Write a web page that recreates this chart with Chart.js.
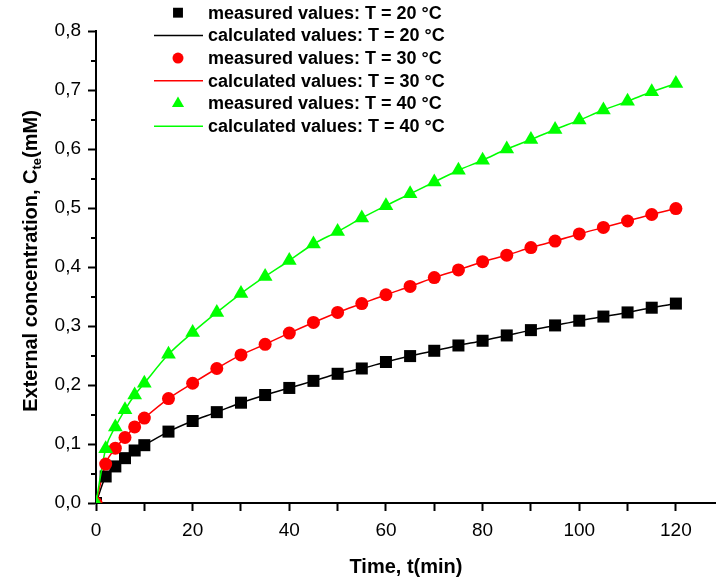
<!DOCTYPE html>
<html>
<head>
<meta charset="utf-8">
<script src="https://cdn.jsdelivr.net/npm/chart.js@4.4.0/dist/chart.umd.min.js"></script>
<style>
  html, body { margin: 0; padding: 0; background: #fff; }
</style>
</head>
<body>
<canvas id="myChart" width="716" height="585"></canvas>
<script>
const tiempos = [0, 2, 4, 6, 8, 10, 15, 20, 25, 30, 35, 40, 45, 50, 55, 60, 65, 70, 75, 80, 85, 90, 95, 100, 105, 110, 115, 120];

// valores medidos (mM)
const medidos20 = [0, 0.045, 0.062, 0.076, 0.089, 0.098, 0.121, 0.139, 0.154, 0.170, 0.183, 0.195, 0.207, 0.219, 0.228, 0.239, 0.249, 0.258, 0.267, 0.275, 0.284, 0.293, 0.301, 0.309, 0.316, 0.323, 0.331, 0.338];
const medidos30 = [0, 0.066, 0.093, 0.111, 0.129, 0.144, 0.177, 0.203, 0.228, 0.251, 0.269, 0.288, 0.306, 0.323, 0.338, 0.353, 0.367, 0.382, 0.395, 0.409, 0.420, 0.433, 0.444, 0.456, 0.467, 0.478, 0.489, 0.499];
const medidos40 = [0, 0.092, 0.129, 0.158, 0.183, 0.203, 0.252, 0.289, 0.323, 0.355, 0.384, 0.411, 0.439, 0.460, 0.483, 0.504, 0.524, 0.544, 0.564, 0.581, 0.600, 0.616, 0.633, 0.649, 0.666, 0.681, 0.697, 0.711];

// valores calculados (mM)
const calc20 = [0, 0.045, 0.062, 0.076, 0.089, 0.098, 0.121, 0.139, 0.154, 0.170, 0.183, 0.195, 0.207, 0.219, 0.228, 0.239, 0.249, 0.258, 0.267, 0.275, 0.284, 0.293, 0.301, 0.309, 0.316, 0.323, 0.331, 0.338];
const calc30 = [0, 0.066, 0.093, 0.111, 0.129, 0.144, 0.177, 0.203, 0.228, 0.251, 0.269, 0.288, 0.306, 0.323, 0.338, 0.353, 0.367, 0.382, 0.395, 0.409, 0.420, 0.433, 0.444, 0.456, 0.467, 0.478, 0.489, 0.499];
const calc40 = [0, 0.092, 0.129, 0.158, 0.183, 0.203, 0.252, 0.289, 0.323, 0.355, 0.384, 0.411, 0.439, 0.460, 0.483, 0.504, 0.524, 0.544, 0.564, 0.581, 0.600, 0.616, 0.633, 0.649, 0.666, 0.681, 0.697, 0.711];

const xEtiquetas = [0, 20, 40, 60, 80, 100, 120];
const yValores   = [0, 0.1, 0.2, 0.3, 0.4, 0.5, 0.6, 0.7, 0.8];
const yEtiquetas = ['0,0', '0,1', '0,2', '0,3', '0,4', '0,5', '0,6', '0,7', '0,8'];
const yMenores   = [0.05, 0.15, 0.25, 0.35, 0.45, 0.55, 0.65, 0.75];

const serie = vals => tiempos.map((t, i) => ({ x: t, y: vals[i] }));

Chart.defaults.font.family = '"Liberation Sans", Arial, sans-serif';
Chart.defaults.color = '#000';

const medida = (label, vals, color, estilo, radio, orden) => ({
  label, data: serie(vals), showLine: false,
  pointStyle: estilo, pointRadius: radio, pointBorderWidth: 0,
  backgroundColor: color, borderColor: color, order: orden
});
const calculada = (label, vals, color, orden) => ({
  label, data: serie(vals), showLine: true, borderColor: color, backgroundColor: color,
  borderWidth: 1.5, pointRadius: 0, cubicInterpolationMode: 'monotone', order: orden
});

const data = {
  datasets: [
    medida('measured values: T = 20 °C', medidos20, '#000000', 'rect', 8.5, 4),
    calculada('calculated values: T = 20 °C', calc20, '#000000', 6),
    medida('measured values: T = 30 °C', medidos30, '#ff0000', 'circle', 6.5, 2),
    calculada('calculated values: T = 30 °C', calc30, '#ff0000', 5),
    medida('measured values: T = 40 °C', medidos40, '#00ff00', 'triangle', 8.5, 1),
    calculada('calculated values: T = 40 °C', calc40, '#00ff00', 3)
  ]
};

// marcas menores del eje y
const marcasMenores = {
  id: 'marcasMenores',
  afterDraw(chart) {
    const y = chart.scales.y, ctx = chart.ctx;
    ctx.save();
    ctx.strokeStyle = '#000';
    ctx.lineWidth = 2;
    yMenores.forEach(v => {
      const py = Math.round(y.getPixelForValue(v));
      ctx.beginPath();
      ctx.moveTo(y.right - 5, py);
      ctx.lineTo(y.right, py);
      ctx.stroke();
    });
    ctx.restore();
  }
};

// titulo del eje y con subindice
const tituloY = {
  id: 'tituloY',
  afterDraw(chart) {
    const { ctx, chartArea } = chart;
    const cy = (chartArea.top + chartArea.bottom) / 2 - 6;
    const grande = 'bold 20px "Liberation Sans", Arial, sans-serif';
    const chica  = 'bold 13px "Liberation Sans", Arial, sans-serif';
    const p1 = 'External concentration, C', p2 = 'te', p3 = '(mM)';
    ctx.save();
    ctx.translate(30, cy);
    ctx.rotate(-Math.PI / 2);
    ctx.fillStyle = '#000';
    ctx.textBaseline = 'alphabetic';
    ctx.font = grande;
    const w1 = ctx.measureText(p1).width, w3 = ctx.measureText(p3).width;
    ctx.font = chica;
    const w2 = ctx.measureText(p2).width;
    let x = -(w1 + w2 + w3) / 2;
    ctx.font = grande; ctx.fillText(p1, x, 7); x += w1;
    ctx.font = chica;  ctx.fillText(p2, x, 11); x += w2;
    ctx.font = grande; ctx.fillText(p3, x, 7);
    ctx.restore();
  }
};

// leyenda dentro del grafico
const leyenda = {
  id: 'leyenda',
  afterDraw(chart) {
    const ctx = chart.ctx;
    ctx.save();
    ctx.font = 'bold 18px "Liberation Sans", Arial, sans-serif';
    ctx.textBaseline = 'middle';
    chart.data.datasets.forEach((ds, i) => {
      const y = 12.7 + i * 22.7;
      ctx.fillStyle = ds.borderColor;
      ctx.strokeStyle = ds.borderColor;
      if (ds.showLine === false) {
        const r = ds.pointStyle === 'circle' ? 5.5 : 7;
        Chart.helpers.drawPoint(ctx, { pointStyle: ds.pointStyle, radius: r, rotation: 0, borderWidth: 0 }, 178, y);
      } else {
        ctx.lineWidth = 1.5;
        ctx.beginPath();
        ctx.moveTo(154, y);
        ctx.lineTo(203, y);
        ctx.stroke();
      }
      ctx.fillStyle = '#000';
      ctx.fillText(ds.label, 208, y + 1);
    });
    ctx.restore();
  }
};

const config = {
  type: 'scatter',
  data,
  options: {
    responsive: false,
    animation: false,
    devicePixelRatio: 1,
    layout: { autoPadding: false, padding: { top: 31, right: 0, bottom: 0, left: 0 } },
    plugins: { legend: { display: false }, tooltip: { enabled: false } },
    scales: {
      x: {
        type: 'linear', min: 0, max: 128.3,
        ticks: {
          stepSize: 10, includeBounds: false, autoSkip: false, maxRotation: 0, padding: 8,
          font: { size: 19 },
          callback: v => xEtiquetas.includes(v) ? String(v) : ''
        },
        grid: { drawOnChartArea: false, color: '#000', tickLength: 8, tickWidth: 2 },
        border: { color: '#000', width: 2 },
        title: { display: true, text: 'Time, t(min)', font: { size: 20, weight: 'bold' }, padding: { top: 0, bottom: 6 } },
        afterFit: s => { s.height = 82; }
      },
      y: {
        type: 'linear', min: 0, max: 0.8,
        ticks: {
          stepSize: 0.1, padding: 7, font: { size: 19 },
          callback: v => {
            const i = yValores.findIndex(t => Math.abs(t - v) < 1e-6);
            return i >= 0 ? yEtiquetas[i] : '';
          }
        },
        grid: { drawOnChartArea: false, color: '#000', tickLength: 8, tickWidth: 2 },
        border: { color: '#000', width: 2 },
        afterFit: s => { s.width = 96; }
      }
    }
  },
  plugins: [marcasMenores, tituloY, leyenda]
};

const myChart = new Chart(document.getElementById('myChart'), config);
</script>
</body>
</html>
